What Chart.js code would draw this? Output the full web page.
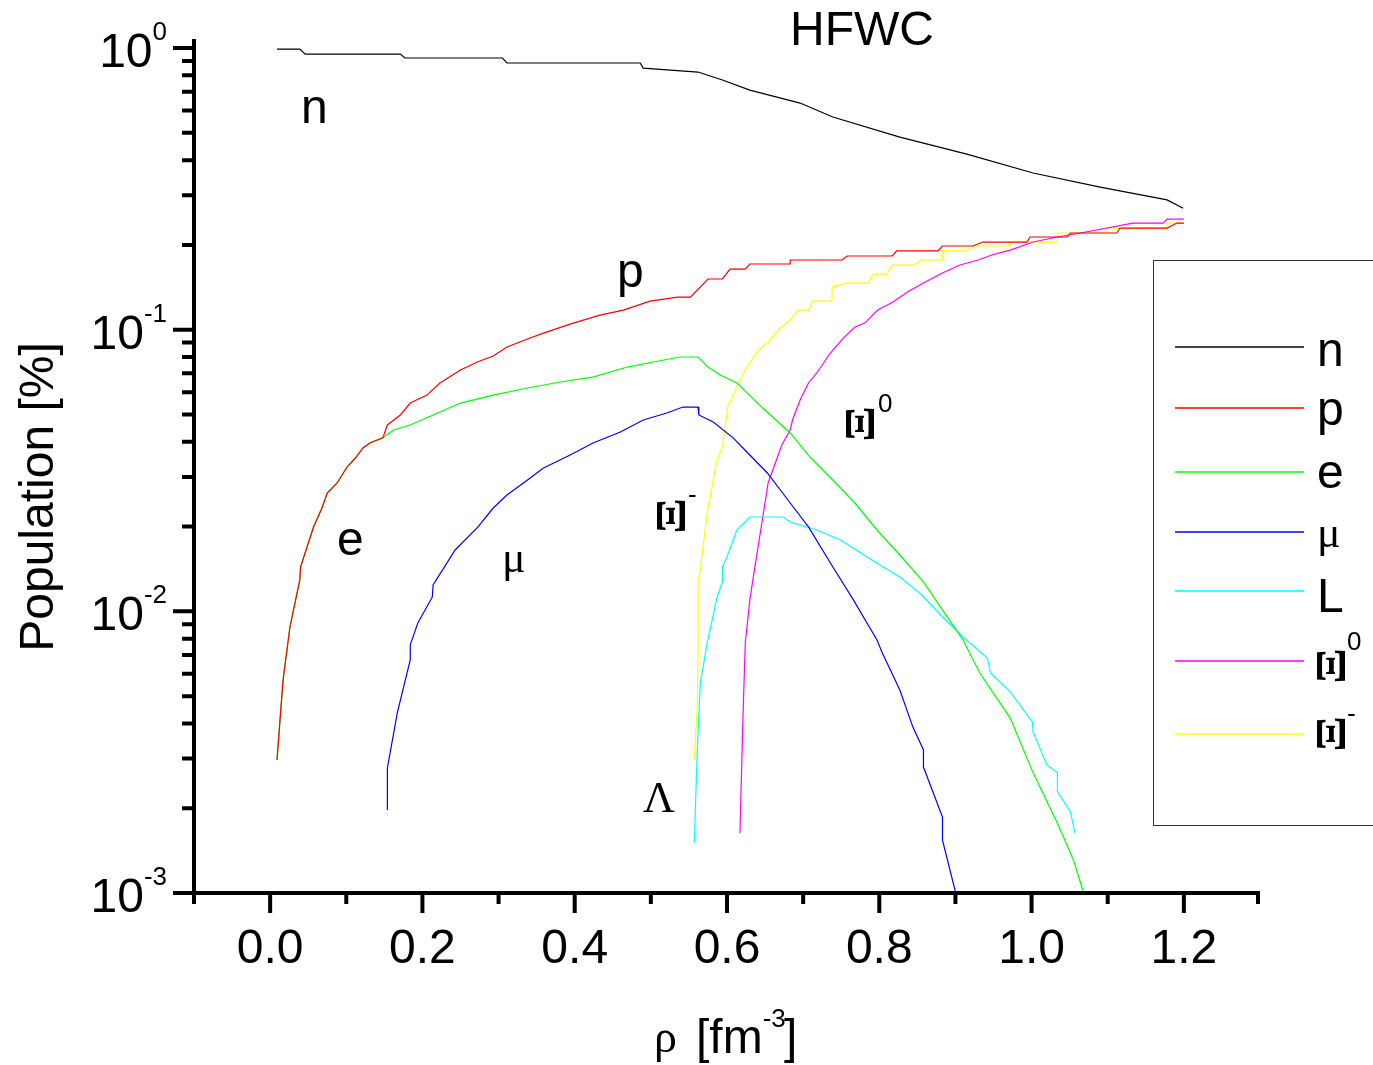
<!DOCTYPE html>
<html>
<head>
<meta charset="utf-8">
<script src="https://cdn.jsdelivr.net/npm/chart.js@4.4.1/dist/chart.umd.min.js"></script>
<style>
  html, body { margin: 0; padding: 0; background: #fff; }
  canvas { display: block; }
</style>
</head>
<body>
<canvas id="chart" width="1373" height="1065"></canvas>
<script>
// HFWC — particle populations vs baryon density (log scale)

const SANS = 'Arial, "Liberation Sans", sans-serif';
const SERIF = '"Times New Roman", "Liberation Serif", serif';

// ─── data ───
const nRho = [0.009, 0.039, 0.046, 0.171, 0.177, 0.305, 0.311, 0.486, 0.490, 0.562, 0.594, 0.630, 0.696, 0.739, 0.827, 0.915, 1.002, 1.090, 1.178, 1.199];
const nPop = [0.992, 0.992, 0.952, 0.952, 0.922, 0.922, 0.885, 0.885, 0.849, 0.822, 0.770, 0.709, 0.638, 0.569, 0.483, 0.420, 0.360, 0.321, 0.289, 0.270];

const pRho = [0.009, 0.017, 0.026, 0.039, 0.040, 0.057, 0.068, 0.075, 0.088, 0.101, 0.112, 0.122, 0.131, 0.148, 0.154, 0.171, 0.184, 0.206, 0.223, 0.250, 0.272, 0.293, 0.311, 0.338, 0.359, 0.394, 0.433, 0.464, 0.499, 0.535, 0.552, 0.575, 0.594, 0.604, 0.624, 0.630, 0.683, 0.683, 0.751, 0.758, 0.817, 0.823, 0.877, 0.883, 0.923, 0.936, 0.994, 0.998, 1.047, 1.051, 1.112, 1.116, 1.178, 1.191, 1.200];
const pPop = [0.00297, 0.00571, 0.0088, 0.01293, 0.01438, 0.01994, 0.02328, 0.02632, 0.02856, 0.03255, 0.03503, 0.03802, 0.03961, 0.0413, 0.0459, 0.0498, 0.0549, 0.0586, 0.0647, 0.0719, 0.0768, 0.0807, 0.0868, 0.0927, 0.0973, 0.1047, 0.1127, 0.1174, 0.1264, 0.1306, 0.1306, 0.1514, 0.1514, 0.1642, 0.1642, 0.1711, 0.1711, 0.1768, 0.1768, 0.1827, 0.1827, 0.1904, 0.1904, 0.1983, 0.1983, 0.2048, 0.2048, 0.2134, 0.2134, 0.2205, 0.2205, 0.2296, 0.2296, 0.2392, 0.2392];

const eRho = [0.009, 0.017, 0.026, 0.039, 0.040, 0.057, 0.068, 0.075, 0.088, 0.101, 0.112, 0.122, 0.131, 0.148, 0.162, 0.184, 0.214, 0.250, 0.293, 0.338, 0.381, 0.424, 0.469, 0.503, 0.538, 0.562, 0.575, 0.591, 0.613, 0.647, 0.683, 0.709, 0.739, 0.768, 0.797, 0.827, 0.858, 0.883, 0.910, 0.932, 0.972, 1.002, 1.034, 1.055, 1.068];
const ePop = [0.00297, 0.00571, 0.0088, 0.01293, 0.01438, 0.01994, 0.02328, 0.02632, 0.02856, 0.03255, 0.03503, 0.03802, 0.03961, 0.0413, 0.04404, 0.0459, 0.0498, 0.0549, 0.0586, 0.0621, 0.0652, 0.0679, 0.0737, 0.0768, 0.0800, 0.0800, 0.0737, 0.0691, 0.0647, 0.0527, 0.0430, 0.03532, 0.02927, 0.02425, 0.01945, 0.01585, 0.01272, 0.01012, 0.00791, 0.00604, 0.00418, 0.00267, 0.00177, 0.00131, 0.001009];

const muRho = [0.154, 0.154, 0.167, 0.184, 0.184, 0.194, 0.213, 0.214, 0.243, 0.273, 0.293, 0.311, 0.338, 0.359, 0.394, 0.424, 0.460, 0.490, 0.521, 0.542, 0.562, 0.563, 0.582, 0.608, 0.621, 0.653, 0.683, 0.707, 0.735, 0.766, 0.797, 0.804, 0.827, 0.844, 0.858, 0.858, 0.883, 0.883, 0.900];
const muPop = [0.00197, 0.00278, 0.00436, 0.00672, 0.0076, 0.0091, 0.01125, 0.01241, 0.01652, 0.01994, 0.02328, 0.02589, 0.02927, 0.03228, 0.0359, 0.03961, 0.04333, 0.04779, 0.05061, 0.05315, 0.05315, 0.0498, 0.04703, 0.0413, 0.03802, 0.03099, 0.02425, 0.01994, 0.01497, 0.01098, 0.00791, 0.00712, 0.00526, 0.00389, 0.00322, 0.0028, 0.00186, 0.00154, 0.001009];

const lamRho = [0.557, 0.561, 0.565, 0.574, 0.587, 0.594, 0.594, 0.600, 0.613, 0.630, 0.674, 0.683, 0.718, 0.749, 0.784, 0.801, 0.827, 0.856, 0.883, 0.910, 0.942, 0.946, 0.972, 1.001, 1.002, 1.020, 1.034, 1.034, 1.051, 1.057];
const lamPop = [0.001506, 0.00322, 0.00557, 0.00772, 0.01125, 0.01272, 0.01438, 0.0156, 0.01945, 0.02163, 0.02163, 0.02077, 0.01945, 0.01792, 0.0156, 0.01462, 0.01325, 0.01143, 0.00955, 0.00811, 0.00683, 0.00604, 0.00518, 0.00405, 0.00373, 0.00285, 0.00267, 0.00229, 0.00194, 0.00163];

const xi0Rho = [0.617, 0.621, 0.624, 0.630, 0.634, 0.647, 0.654, 0.672, 0.683, 0.686, 0.696, 0.707, 0.718, 0.732, 0.739, 0.753, 0.768, 0.781, 0.798, 0.818, 0.837, 0.858, 0.883, 0.906, 0.930, 0.948, 0.972, 1.002, 1.034, 1.064, 1.133, 1.173, 1.178, 1.200];
const xi0Pop = [0.00163, 0.00422, 0.00772, 0.01098, 0.01293, 0.02163, 0.02856, 0.03898, 0.04404, 0.04779, 0.0563, 0.0647, 0.0702, 0.0800, 0.0847, 0.0934, 0.1022, 0.1056, 0.1174, 0.1254, 0.1361, 0.1464, 0.159, 0.1697, 0.1768, 0.1842, 0.1918, 0.2048, 0.2134, 0.2205, 0.2392, 0.2392, 0.2471, 0.2471];

const ximRho = [0.557, 0.561, 0.562, 0.562, 0.565, 0.574, 0.587, 0.594, 0.601, 0.613, 0.624, 0.641, 0.654, 0.670, 0.683, 0.693, 0.707, 0.713, 0.738, 0.738, 0.758, 0.785, 0.792, 0.810, 0.817, 0.847, 0.854, 0.883, 0.883, 0.915, 0.923, 0.972, 0.972, 1.034, 1.034, 1.094, 1.103, 1.178, 1.178, 1.200];
const ximPop = [0.00297, 0.00458, 0.00729, 0.01293, 0.01403, 0.02236, 0.03447, 0.03834, 0.05315, 0.0626, 0.0719, 0.0847, 0.0904, 0.1014, 0.1082, 0.1174, 0.1174, 0.1264, 0.1264, 0.1417, 0.1464, 0.1464, 0.1576, 0.1576, 0.1697, 0.1697, 0.1768, 0.1768, 0.1904, 0.1904, 0.1983, 0.1983, 0.2048, 0.2048, 0.2205, 0.2205, 0.2296, 0.2296, 0.2392, 0.2392];

const seriesNames = ['n', 'p', 'e', 'μ', 'L', 'Ξ0', 'Ξ-'];
const seriesColors = ['#000000', '#ff0000', '#00ff00', '#0000ff', '#00ffff', '#ff00ff', '#ffff00'];

// ─── axes ───
const rhoTicks = [0.0, 0.2, 0.4, 0.6, 0.8, 1.0, 1.2];
const rhoTickLabels = ['0.0', '0.2', '0.4', '0.6', '0.8', '1.0', '1.2'];
const rhoMinorTicks = [-0.1, 0.1, 0.3, 0.5, 0.7, 0.9, 1.1, 1.3];
const popDecades = [1, 0.1, 0.01, 0.001];
const popDecadeExps = ['0', '-1', '-2', '-3'];
const popMinorSteps = [2, 3, 4, 5, 6, 7, 8, 9];

function toPoints(xs, ys) {
    return xs.map((x, i) => ({ x, y: ys[i] }));
}

const seriesData = [
    toPoints(nRho, nPop),
    toPoints(pRho, pPop),
    toPoints(eRho, ePop),
    toPoints(muRho, muPop),
    toPoints(lamRho, lamPop),
    toPoints(xi0Rho, xi0Pop),
    toPoints(ximRho, ximPop)
];

// superscript helper: base text then raised small text
function drawSup(ctx, base, sup, x, baseline, baseFont, supFont, rise) {
    ctx.font = baseFont;
    ctx.textAlign = 'left';
    ctx.textBaseline = 'alphabetic';
    ctx.fillText(base, x, baseline);
    const w = ctx.measureText(base).width;
    ctx.font = supFont;
    ctx.fillText(sup, x + w, baseline - rise);
}

// Xi glyph turned on its side (as in the Symbol-font export), fitted to a 27x33 box
function drawXi(ctx, cx, cy, sup, supX, supBaseline) {
    ctx.save();
    ctx.font = 'bold 40px ' + SERIF;
    const m = ctx.measureText('Ξ');
    const gw = m.actualBoundingBoxLeft + m.actualBoundingBoxRight;
    const gh = m.actualBoundingBoxAscent + m.actualBoundingBoxDescent;
    ctx.translate(cx, cy);
    ctx.rotate(-Math.PI / 2);
    ctx.scale(33 / gw, 27 / gh);
    ctx.textAlign = 'left';
    ctx.textBaseline = 'alphabetic';
    ctx.fillText('Ξ', -gw / 2 + m.actualBoundingBoxLeft,
        (m.actualBoundingBoxAscent - m.actualBoundingBoxDescent) / 2);
    ctx.restore();
    ctx.font = '26px ' + SANS;
    ctx.textAlign = 'left';
    ctx.fillText(sup, supX, supBaseline);
}

function drawName(ctx, name, x, baseline, xiCenterY, supBaseline) {
    ctx.textAlign = 'left';
    ctx.textBaseline = 'alphabetic';
    if (name === 'μ' || name === 'Λ') {
        ctx.font = '44px ' + SERIF;
        ctx.fillText(name, x, baseline);
    } else if (name.startsWith('Ξ')) {
        drawXi(ctx, x + 14, xiCenterY, name.slice(1), x + 30, supBaseline);
    } else {
        ctx.font = '48px ' + SANS;
        ctx.fillText(name, x, baseline);
    }
}

const originPlugin = {
    id: 'originFrame',
    afterDraw(chart) {
        const { ctx, chartArea: a, scales: { x, y } } = chart;
        ctx.save();
        ctx.strokeStyle = '#000';
        ctx.fillStyle = '#000';
        ctx.lineWidth = 4;

        // axis lines
        ctx.beginPath();
        ctx.moveTo(a.left, a.top);
        ctx.lineTo(a.left, a.bottom + 2);
        ctx.moveTo(a.left - 2, a.bottom);
        ctx.lineTo(a.right, a.bottom);
        ctx.stroke();

        // x ticks
        ctx.beginPath();
        rhoTicks.forEach(v => {
            const px = x.getPixelForValue(v);
            ctx.moveTo(px, a.bottom);
            ctx.lineTo(px, a.bottom + 20);
        });
        rhoMinorTicks.forEach(v => {
            const px = Math.min(x.getPixelForValue(v), a.right - 2);
            ctx.moveTo(px, a.bottom);
            ctx.lineTo(px, a.bottom + 11);
        });
        // y ticks
        popDecades.forEach(v => {
            const py = y.getPixelForValue(v);
            ctx.moveTo(a.left, py);
            ctx.lineTo(a.left - 21, py);
        });
        popDecades.slice(1).forEach(d => {
            popMinorSteps.forEach(k => {
                const py = y.getPixelForValue(k * d);
                ctx.moveTo(a.left, py);
                ctx.lineTo(a.left - 12, py);
            });
        });
        ctx.stroke();

        // x tick labels
        ctx.font = '48px ' + SANS;
        ctx.textAlign = 'center';
        ctx.textBaseline = 'alphabetic';
        rhoTicks.forEach((v, i) => {
            ctx.fillText(rhoTickLabels[i], x.getPixelForValue(v), a.bottom + 70);
        });

        // y tick labels 10^k, right edge aligned
        popDecades.forEach((v, i) => {
            const py = y.getPixelForValue(v);
            ctx.font = '26px ' + SANS;
            const sw = ctx.measureText(popDecadeExps[i]).width;
            ctx.font = '48px ' + SANS;
            const bw = ctx.measureText('10').width;
            const x0 = 167 - sw - bw;
            drawSup(ctx, '10', popDecadeExps[i], x0, py + 19, '48px ' + SANS, '26px ' + SANS, 27);
        });

        // axis titles
        ctx.save();
        ctx.translate(53, 497);
        ctx.rotate(-Math.PI / 2);
        ctx.font = '48px ' + SANS;
        ctx.textAlign = 'center';
        ctx.fillText('Population [%]', 0, 0);
        ctx.restore();

        ctx.textAlign = 'left';
        ctx.font = '46px ' + SERIF;
        ctx.fillText('ρ', 654, 1052);
        drawSup(ctx, '[fm', '-3', 696, 1053, '48px ' + SANS, '26px ' + SANS, 26);
        ctx.font = '48px ' + SANS;
        ctx.fillText(']', 784, 1053);

        // title
        ctx.textAlign = 'center';
        ctx.fillText('HFWC', 862, 45);

        // curve labels inside the plot
        drawName(ctx, 'n', 301, 123);
        drawName(ctx, 'p', 617, 287);
        drawName(ctx, 'e', 337, 555);
        drawName(ctx, 'μ', 502, 572);
        drawName(ctx, 'Λ', 643, 812);
        drawXi(ctx, 671, 516, '-', 688, 503);
        drawXi(ctx, 860, 424, '0', 878, 412);

        // legend box
        ctx.lineWidth = 1;
        ctx.strokeStyle = '#333';
        ctx.strokeRect(1153.5, 260.5, 260, 565);
        const lineY = [347, 408, 472, 532, 591, 661, 734];
        const textY = [366, 425, 488, 547, 612, 666, 734];
        const supY = [0, 0, 0, 0, 0, 650, 722];
        chart.data.datasets.forEach((ds, i) => {
            ctx.strokeStyle = ds.borderColor;
            ctx.lineWidth = 1.5;
            ctx.beginPath();
            ctx.moveTo(1175, lineY[i]);
            ctx.lineTo(1304, lineY[i]);
            ctx.stroke();
            ctx.fillStyle = '#000';
            drawName(ctx, ds.label, 1317, textY[i], textY[i], supY[i]);
        });
        ctx.restore();
    }
};

new Chart(document.getElementById('chart'), {
    type: 'scatter',
    data: {
        datasets: seriesData.map((pts, i) => ({
            label: seriesNames[i],
            data: pts,
            showLine: true,
            borderColor: seriesColors[i],
            backgroundColor: seriesColors[i],
            borderWidth: 1.2,
            pointRadius: 0,
            tension: 0
        }))
    },
    options: {
        responsive: false,
        animation: false,
        devicePixelRatio: 1,
        layout: { padding: { left: 194, right: 113, top: 39, bottom: 172 } },
        plugins: {
            legend: { display: false },
            tooltip: { enabled: false }
        },
        scales: {
            x: { type: 'linear', min: -0.1, max: 1.3, display: false },
            y: { type: 'logarithmic', min: 0.001, max: 1.077, display: false }
        }
    },
    plugins: [originPlugin]
});
</script>
</body>
</html>
